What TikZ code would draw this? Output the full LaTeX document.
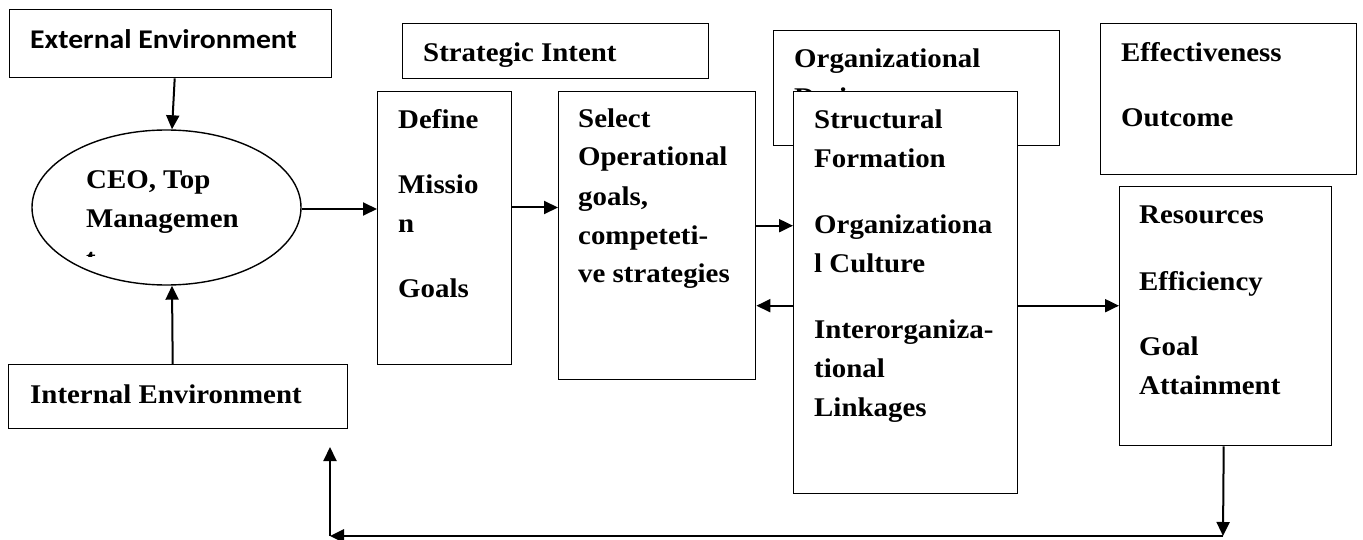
\documentclass[tikz,border=0pt]{standalone}
\usepackage{fontspec}
\setmainfont{Liberation Serif}[FakeStretch=1.07]
\newfontfamily\calfont{Carlito}[FakeStretch=1.1]
\usepackage{tikz}
\usetikzlibrary{shapes.geometric, arrows.meta, positioning}

\tikzset{
  box/.style={draw, line width=1.4pt, fill=white, inner sep=0pt, anchor=north west},
  % multi-line labels are placed at the baseline of their last line
  lbl/.style={anchor=base west, align=left, inner sep=0pt,
    font=\bfseries\fontsize{27}{39}\selectfont},
  link/.style={->, line width=2pt},
}

\begin{document}
\begin{tikzpicture}[x=1pt, y=-1pt, >={Triangle[length=14pt,width=13pt]}]
      \useasboundingbox (0,0) rectangle (1363,540);

      % top row
      \node[box, minimum width=322pt, minimum height=68pt] (ext) at (9,9) {};
      \node[lbl, font=\calfont\bfseries\fontsize{27}{32}\selectfont] (ext-t) at (30,49) {External Environment};
      \node[box, minimum width=306pt, minimum height=55pt] (intent) at (402,23) {};
      \node[lbl] (intent-t) at (423,62) {Strategic Intent};
      \node[box, minimum width=286pt, minimum height=115pt] (design) at (773,30) {};
      \node[lbl] (design-t) at (794,107) {Organizational\\Design};
      \node[box, minimum width=256pt, minimum height=151pt] (effect) at (1100,23) {};
      \node[lbl] (effect-t) at (1121,127) {Effectiveness\\[26pt]Outcome};

      % CEO and environment
      \node[draw, ellipse, line width=1.4pt, minimum width=269pt, minimum height=155pt, inner sep=0pt] (ceo) at (166.5,207.5) {};
      \begin{scope}
        \clip (0,0) rectangle (1363,257);
        \node[lbl] (ceo-t) at (86,267) {CEO, Top\\Managemen\\t};
      \end{scope}
      \node[box, minimum width=339pt, minimum height=64pt] (intern) at (8,364) {};
      \node[lbl] (intern-t) at (30,403) {Internal Environment};

      % middle boxes
      \node[box, minimum width=134pt, minimum height=273pt] (define) at (377,91) {};
      \node[lbl] (define-t) at (398,298) {Define\\[26pt]Missio\\n\\[26pt]Goals};
      \node[box, minimum width=197pt, minimum height=288pt] (select) at (558,91) {};
      \node[lbl] (select-t) at (578,283) {Select\\Operational\\goals,\\competeti-\\ve strategies};
      \node[box, minimum width=224pt, minimum height=402pt] (struct) at (793,91) {};
      \node[lbl] (struct-t) at (814,416) {Structural\\Formation\\[27pt]Organizationa\\l Culture\\[27pt]Interorganiza-\\tional\\Linkages};
      \node[box, minimum width=212pt, minimum height=259pt] (res) at (1119,186) {};
      \node[lbl] (res-t) at (1139,394) {Resources\\[28pt]Efficiency\\[26pt]Goal\\Attainment};

      % connectors
      \draw[link] ([xshift=4pt]ext.south) -- ([xshift=5.5pt]ceo.north);
      \draw[link] ([xshift=-5.5pt]intern.north) -- ([xshift=5.5pt]ceo.south);
      \draw[link] ([yshift=-1.5pt]ceo.east) -- ([yshift=-1.5pt]ceo.east -| define.west);
      \draw[link] (define.east |- ceo.east) -- (select.west |- ceo.east);
      \draw[link] ([yshift=10pt]select.east) -- ([yshift=10pt]select.east -| struct.west);
      \draw[link] ([yshift=-13pt]struct.west) -- ([yshift=-13pt]struct.west -| select.east);
      \draw[link] ([yshift=-13pt]struct.east) -- ([yshift=-13pt]struct.east -| res.west);

      % feedback loop
      \coordinate (fb-r) at (1223,536);
      \coordinate (fb-l) at (330,536);
      \coordinate (fb-t) at (330,447);
      \draw[link] ([xshift=-2pt]res.south) -- (fb-r);
      \draw[link, line width=2.6pt] (fb-r) -- (fb-l);
      \draw[link] (fb-l) -- (fb-t);
    \end{tikzpicture}
\end{document}
